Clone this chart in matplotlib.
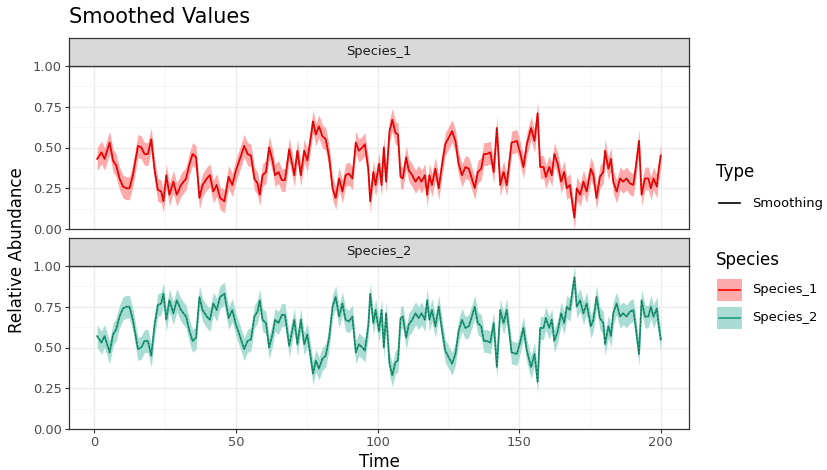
import matplotlib
matplotlib.use("Agg")
import matplotlib.pyplot as plt
import numpy as np
from matplotlib.patches import Rectangle
from matplotlib.lines import Line2D

time = [1.0, 2.5, 3.6, 5.4, 6.6, 7.7, 8.9, 10.1, 11.3, 12.4,
        13.6, 15.4, 16.6, 17.7, 18.9, 20.1, 21.2, 22.4, 23.6, 24.4,
        25.4, 26.5, 27.9, 29.1, 30.6, 32.4, 33.6, 34.7, 35.9, 37.1,
        38.2, 39.7, 40.8, 42.0, 43.2, 44.4, 45.9, 47.4, 48.7, 50.0,
        51.2, 52.9, 54.1, 55.3, 56.5, 57.6, 58.4, 59.4, 60.6, 61.7,
        62.9, 63.8, 65.0, 66.2, 67.3, 68.8, 70.6, 71.7, 72.9, 74.1,
        75.2, 76.4, 77.2, 78.2, 79.3, 80.5, 81.7, 82.9, 84.1, 85.2,
        86.4, 87.6, 88.7, 89.9, 91.1, 92.3, 93.4, 94.6, 95.5, 96.7,
        97.4, 98.5, 99.3, 100.5, 101.4, 102.2, 103.0, 104.2, 105.2, 106.3,
        107.2, 108.1, 108.9, 110.1, 111.0, 112.2, 113.4, 114.5, 115.5, 116.7,
        117.5, 118.3, 119.2, 120.4, 121.6, 122.8, 123.9, 125.1, 126.3, 127.5,
        128.6, 129.8, 131.0, 132.2, 133.1, 134.3, 135.4, 136.6, 137.5, 138.6,
        139.8, 141.0, 142.1, 143.3, 144.5, 145.6, 147.3, 149.2, 150.3, 151.5,
        152.7, 154.2, 155.4, 156.5, 157.4, 158.6, 159.4, 160.6, 161.5, 162.4,
        163.6, 164.8, 165.9, 166.8, 167.9, 168.5, 169.5, 170.3, 171.5, 172.7,
        173.8, 175.3, 176.2, 177.3, 178.5, 179.7, 180.3, 181.5, 182.4, 183.2,
        184.4, 185.6, 186.7, 187.9, 189.1, 190.3, 191.1, 192.3, 193.2, 194.4,
        195.6, 196.5, 197.4, 198.6, 199.2, 200.0]

species_1 = [0.43, 0.47, 0.43, 0.53, 0.42, 0.39, 0.31, 0.26, 0.25, 0.25,
             0.33, 0.51, 0.50, 0.46, 0.46, 0.55, 0.37, 0.24, 0.23, 0.17,
             0.33, 0.21, 0.29, 0.21, 0.27, 0.31, 0.40, 0.46, 0.44, 0.19,
             0.27, 0.31, 0.33, 0.23, 0.27, 0.19, 0.17, 0.32, 0.27, 0.36,
             0.42, 0.51, 0.46, 0.45, 0.31, 0.28, 0.21, 0.33, 0.35, 0.50,
             0.42, 0.33, 0.35, 0.30, 0.30, 0.49, 0.33, 0.48, 0.33, 0.48,
             0.42, 0.56, 0.66, 0.58, 0.63, 0.57, 0.55, 0.44, 0.25, 0.19,
             0.31, 0.23, 0.33, 0.34, 0.31, 0.53, 0.48, 0.50, 0.52, 0.37,
             0.17, 0.35, 0.27, 0.40, 0.27, 0.50, 0.29, 0.60, 0.67, 0.59,
             0.58, 0.32, 0.31, 0.44, 0.36, 0.33, 0.29, 0.32, 0.29, 0.33,
             0.21, 0.33, 0.27, 0.37, 0.25, 0.40, 0.52, 0.56, 0.60, 0.54,
             0.40, 0.33, 0.38, 0.37, 0.32, 0.25, 0.35, 0.37, 0.46, 0.46,
             0.47, 0.35, 0.62, 0.27, 0.35, 0.27, 0.53, 0.54, 0.47, 0.38,
             0.52, 0.62, 0.54, 0.71, 0.38, 0.38, 0.32, 0.38, 0.33, 0.46,
             0.40, 0.29, 0.35, 0.25, 0.27, 0.19, 0.07, 0.25, 0.21, 0.29,
             0.23, 0.37, 0.33, 0.19, 0.32, 0.35, 0.48, 0.37, 0.43, 0.29,
             0.23, 0.31, 0.29, 0.31, 0.28, 0.27, 0.37, 0.54, 0.21, 0.31,
             0.31, 0.25, 0.31, 0.26, 0.36, 0.45]

species_2 = [0.57, 0.53, 0.57, 0.47, 0.58, 0.61, 0.69, 0.74, 0.75, 0.75,
             0.67, 0.49, 0.50, 0.54, 0.54, 0.45, 0.63, 0.76, 0.77, 0.83,
             0.67, 0.79, 0.71, 0.79, 0.73, 0.69, 0.60, 0.54, 0.56, 0.81,
             0.73, 0.69, 0.67, 0.77, 0.73, 0.81, 0.83, 0.68, 0.73, 0.64,
             0.58, 0.49, 0.54, 0.55, 0.69, 0.72, 0.79, 0.67, 0.65, 0.50,
             0.58, 0.67, 0.65, 0.70, 0.70, 0.51, 0.67, 0.52, 0.67, 0.52,
             0.58, 0.44, 0.34, 0.42, 0.37, 0.43, 0.45, 0.56, 0.75, 0.81,
             0.69, 0.77, 0.67, 0.66, 0.69, 0.47, 0.52, 0.50, 0.48, 0.63,
             0.83, 0.65, 0.73, 0.60, 0.73, 0.50, 0.71, 0.40, 0.33, 0.41,
             0.42, 0.68, 0.69, 0.56, 0.64, 0.67, 0.71, 0.68, 0.71, 0.67,
             0.79, 0.67, 0.73, 0.63, 0.75, 0.60, 0.48, 0.44, 0.40, 0.46,
             0.60, 0.67, 0.62, 0.63, 0.68, 0.75, 0.65, 0.63, 0.54, 0.54,
             0.53, 0.65, 0.38, 0.73, 0.65, 0.73, 0.47, 0.46, 0.53, 0.62,
             0.48, 0.38, 0.46, 0.29, 0.62, 0.62, 0.68, 0.62, 0.67, 0.54,
             0.60, 0.71, 0.65, 0.75, 0.73, 0.81, 0.93, 0.75, 0.79, 0.71,
             0.77, 0.63, 0.67, 0.81, 0.68, 0.65, 0.52, 0.63, 0.57, 0.71,
             0.77, 0.69, 0.71, 0.69, 0.72, 0.73, 0.63, 0.46, 0.79, 0.69,
             0.69, 0.75, 0.69, 0.74, 0.64, 0.55]

ribbon_halfwidth = 0.07
species_names = ["Species_1", "Species_2"]
line_colors = ["#FF0000", "#1B9E77"]
fill_colors = ["#FFAAAA", "#A9DDD3"]

W, H = 827, 470
fig = plt.figure(figsize=(W / 100, H / 100), dpi=100)
fig.patch.set_facecolor("white")


def fx(px):
    return px / W


def fy(py):
    return 1 - py / H


panels = [(66, 229, 38), (266, 429, 238)]
series = [species_1, species_2]
left, right = 69, 689
t = np.array(time)

for i, (ptop, pbot, stop) in enumerate(panels):
    ax = fig.add_axes([fx(left), fy(pbot), fx(right - left), (pbot - ptop) / H])
    vals = np.array(series[i])
    ax.fill_between(t, vals - ribbon_halfwidth, vals + ribbon_halfwidth,
                    color=fill_colors[i], linewidth=0, zorder=2)
    ax.plot(t, vals, color=line_colors[i], linewidth=1.3, zorder=3)
    ax.plot(t, vals, color="#333333", linewidth=0.6, linestyle=(0, (1.2, 3.5)), zorder=4)
    ax.set_xlim(1 - 9.95, 200 + 9.95)
    ax.set_ylim(0, 1)
    ax.set_yticks([0, 0.25, 0.5, 0.75, 1.0])
    ax.set_yticklabels(["0.00", "0.25", "0.50", "0.75", "1.00"])
    ax.set_yticks([0.125, 0.375, 0.625, 0.875], minor=True)
    ax.set_xticks([0, 50, 100, 150, 200])
    ax.set_xticks([25, 75, 125, 175], minor=True)
    ax.grid(True, which="major", color="#EBEBEB", linewidth=1.0, zorder=0)
    ax.grid(True, which="minor", color="#F4F4F4", linewidth=0.6, zorder=0)
    ax.set_axisbelow(True)
    for sp in ax.spines.values():
        sp.set_color("#333333")
        sp.set_linewidth(0.9)
    ax.tick_params(axis="both", which="major", length=3, color="#333333",
                   labelsize=9.4, labelcolor="#4D4D4D", pad=2)
    ax.tick_params(axis="both", which="minor", length=0)
    if i == 0:
        ax.tick_params(axis="x", which="major", labelbottom=False, length=0)
    # strip
    sax = fig.add_axes([fx(left), fy(ptop), fx(right - left), (ptop - stop) / H])
    sax.set_facecolor("#D9D9D9")
    sax.set_xticks([])
    sax.set_yticks([])
    for sp in sax.spines.values():
        sp.set_color("#333333")
        sp.set_linewidth(0.9)
    sax.text(0.5, 0.5, species_names[i], ha="center", va="center",
             fontsize=9.4, color="#1A1A1A", transform=sax.transAxes)

# titles and labels
fig.text(fx(69), fy(17), "Smoothed Values", fontsize=15, color="black",
         ha="left", va="center")
fig.text(fx(379), fy(462), "Time", fontsize=12, ha="center", va="center")
fig.text(fx(17), fy(250), "Relative Abundance", fontsize=12, ha="center",
         va="center", rotation=90)

# legend: Type
fig.text(fx(716), fy(172), "Type", fontsize=12, ha="left", va="center")
fig.add_artist(Line2D([fx(719), fx(740)], [fy(203), fy(203)], color="black",
                      linewidth=1.2, transform=fig.transFigure))
fig.text(fx(752), fy(203), "Smoothing", fontsize=9.4, ha="left", va="center")

# legend: Species
fig.text(fx(716), fy(260), "Species", fontsize=12, ha="left", va="center")
for k, yc in enumerate([290, 318]):
    fig.add_artist(Rectangle((fx(717), fy(yc + 11)), fx(25), 22 / H,
                             facecolor=fill_colors[k], edgecolor="none",
                             transform=fig.transFigure))
    fig.add_artist(Line2D([fx(719), fx(740)], [fy(yc), fy(yc)],
                          color=line_colors[k], linewidth=1.2,
                          transform=fig.transFigure))
    fig.text(fx(752), fy(yc), species_names[k], fontsize=9.4, ha="left",
             va="center")

fig.savefig("out.png", dpi=100, facecolor="white")
